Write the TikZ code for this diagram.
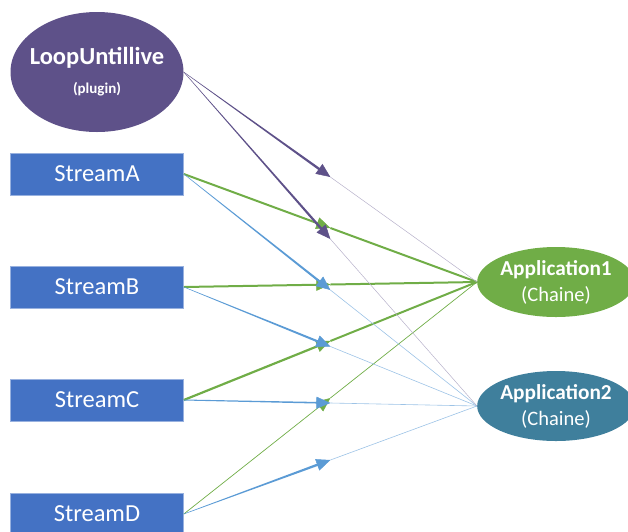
\documentclass[tikz,border=0pt]{standalone}
\usepackage{fontspec}
\setmainfont{Carlito}
\usetikzlibrary{arrows.meta,positioning,calc,shapes.geometric}
\definecolor{loopviolet}{RGB}{94,81,137}
\definecolor{streamblue}{RGB}{68,114,196}
\definecolor{linkblue}{RGB}{91,155,213}
\definecolor{appgreen}{RGB}{112,173,71}
\definecolor{appteal}{RGB}{63,127,156}

\begin{document}
\begin{tikzpicture}[x=1pt,y=-1pt,
  streambox/.style={fill=streamblue,draw=streamblue!55!white,line width=0.6pt,minimum width=173pt,minimum height=42pt,inner sep=0pt,text=white,font=\fontsize{24.5}{28}\selectfont},
  appnode/.style={ellipse,minimum width=148pt,minimum height=70pt,inner sep=0pt,text=white,align=center,font=\fontsize{20.5}{26}\selectfont},
  tipped/.style={-{Triangle[length=14pt,width=12pt]},line width=0.5pt},
  violetlink/.style={loopviolet},
  violetlink-tail/.style={loopviolet!45,line width=0.5pt},
  bluelink/.style={linkblue},
  bluelink-tail/.style={linkblue!60,line width=0.6pt},
  greenlink/.style={appgreen},
  greenlink-tail/.style={appgreen,line width=2pt},
  thingreen/.style={appgreen},
  thingreen-tail/.style={appgreen,line width=0.7pt}]
\useasboundingbox (0,0) rectangle (628,531);
\clip (0,0) rectangle (628,531);

\node[ellipse,fill=loopviolet,minimum width=173pt,minimum height=120pt,inner sep=0pt] (loop) at (97,72) {};
\node[text=white,font=\bfseries\fontsize{24.5}{28}\selectfont] (looptitle) at (97,58) {LoopUntillive};
\node[text=white,font=\bfseries\fontsize{15}{17}\selectfont] (loopnote) at (97,89) {(plugin)};
\node[streambox] (sa) at (97,174) {StreamA};
\node[streambox] (sb) at (97,287) {StreamB};
\node[streambox] (sc) at (97,400) {StreamC};
\node[streambox] (sd) at (97,514) {StreamD};
\node[appnode,fill=appgreen] (app1) at (556,282) {{\bfseries\fontsize{21.3}{26}\selectfont Application1}\\(Chaine)};
\node[appnode,fill=appteal] (app2) at (556,406) {{\bfseries\fontsize{21.3}{26}\selectfont Application2}\\(Chaine)};

% links: tapered body, arrow tip half way, thin tail
\foreach \src/\dst/\kind/\ws/\we in {sd/app1/thingreen/0.35pt/0.35pt,sa/app1/greenlink/1pt/1pt,
    sb/app1/greenlink/1pt/1pt,sc/app1/greenlink/1.1pt/1.1pt,
    sa/app2/bluelink/0.25pt/1.1pt,sb/app2/bluelink/0.25pt/1.1pt,sc/app2/bluelink/0.5pt/0.8pt,sd/app2/bluelink/0.25pt/1.2pt,
    loop/app1/violetlink/0.2pt/1.2pt,loop/app2/violetlink/0.2pt/1.2pt}{
  \coordinate (s) at (\src.east);
  \coordinate (m) at ($(\src.east)!0.5!(\dst.west)$);
  \coordinate (b) at ($(m)!12pt!(s)$);
  \draw[\kind-tail] (m) -- (\dst.west);
  \fill[\kind] ($(s)!\ws!90:(b)$) -- ($(b)!\we!-90:(s)$) -- ($(b)!\we!90:(s)$) -- ($(s)!\ws!-90:(b)$) -- cycle;
  \draw[\kind,tipped] (b) -- (m);
}
\end{tikzpicture}
\end{document}
